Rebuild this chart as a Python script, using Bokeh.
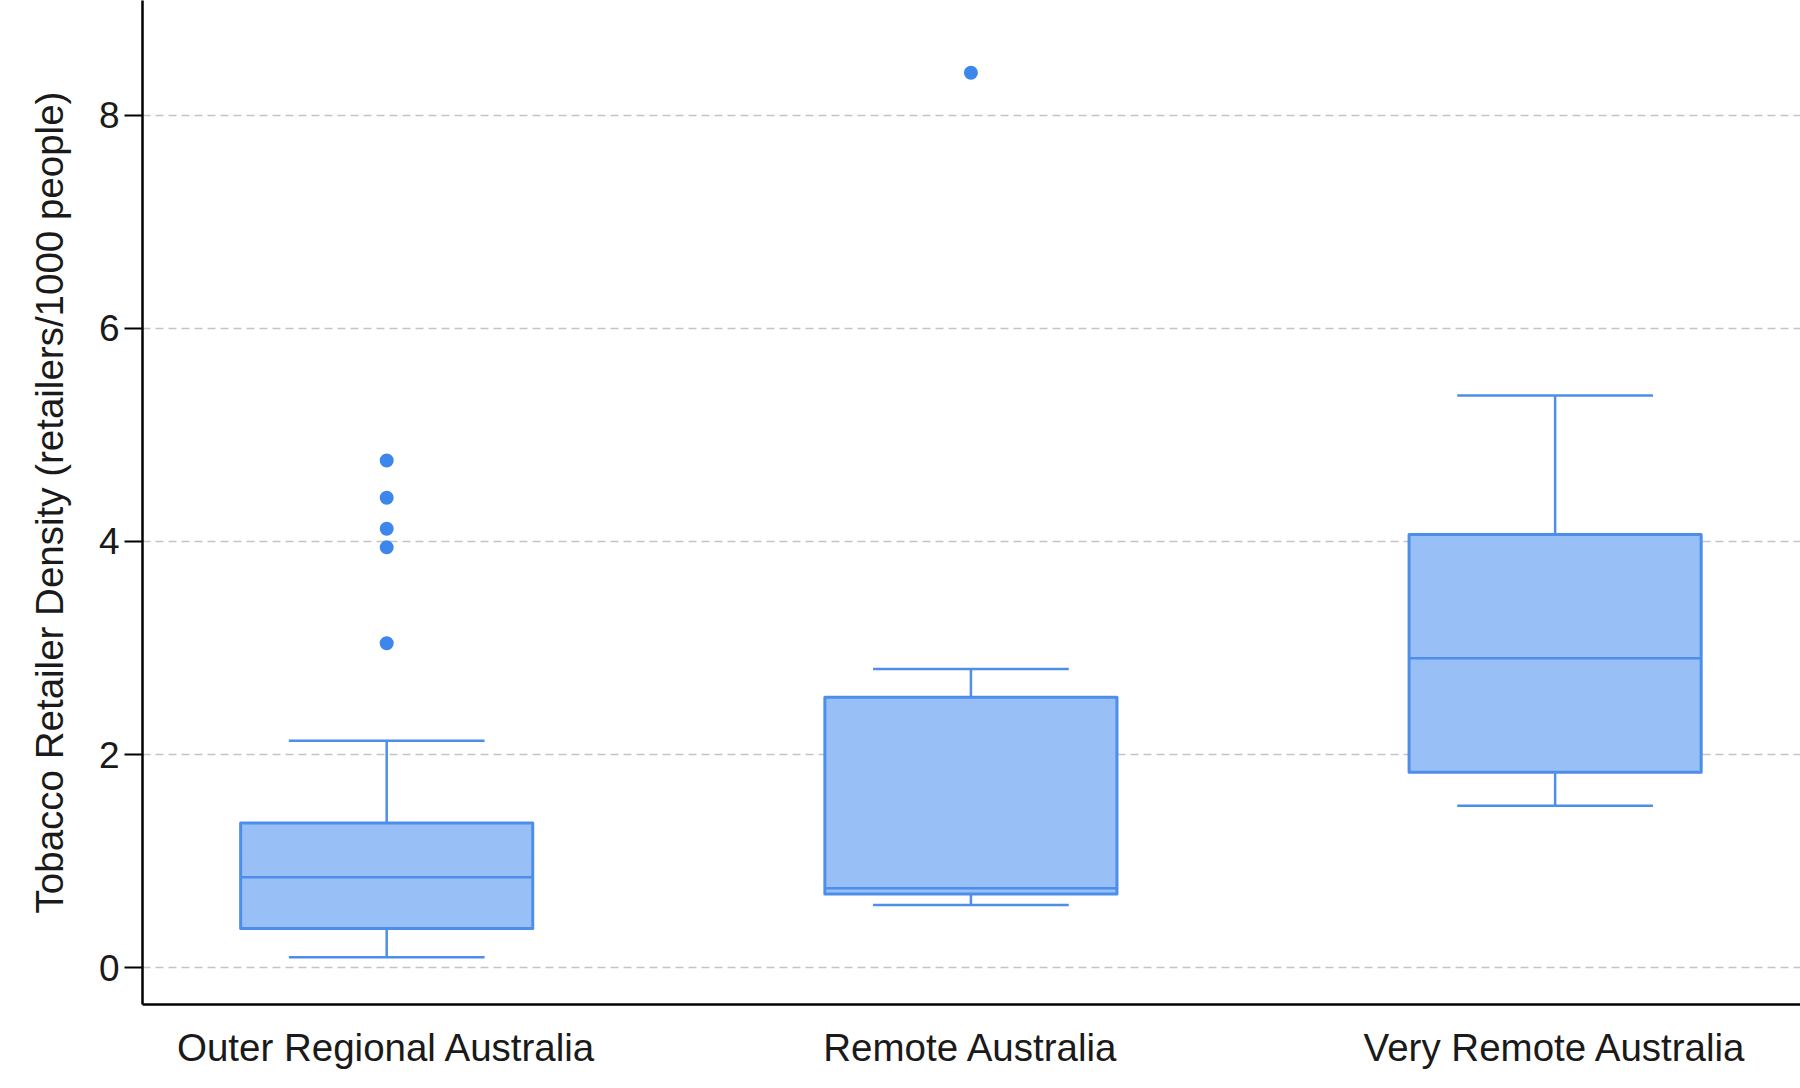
from bokeh.plotting import figure
from bokeh.models import Range1d, FixedTicker, ColumnDataSource
from bokeh.embed import file_html
from bokeh.resources import INLINE

categories = ["Outer Regional Australia", "Remote Australia", "Very Remote Australia"]
lower_whisker = [0.097, 0.588, 1.52]
q1 = [0.368, 0.692, 1.835]
median = [0.848, 0.745, 2.905]
q3 = [1.357, 2.538, 4.065]
upper_whisker = [2.13, 2.804, 5.37]
outlier_cat = [0, 0, 0, 0, 0, 1]
outlier_val = [4.76, 4.41, 4.12, 3.945, 3.045, 8.40]

FILL = "#98BFF6"
LINE = "#4D8EEB"
DOT = "#3D87EC"
BOX_W = 0.5
CAP_W = 0.335

xs = list(range(len(categories)))

p = figure(width=1800, height=1088, output_backend="svg", toolbar_location=None,
           x_range=Range1d(-0.418, 2.42), y_range=Range1d(-0.346, 9.078),
           min_border_left=142, min_border_right=0, min_border_top=0, min_border_bottom=84)
p.outline_line_color = None
p.background_fill_color = "white"
p.border_fill_color = "white"

src = ColumnDataSource(dict(x=xs, lo=lower_whisker, q1=q1, med=median, q3=q3, hi=upper_whisker,
                            bl=[x - BOX_W / 2 for x in xs], br=[x + BOX_W / 2 for x in xs],
                            cl=[x - CAP_W / 2 for x in xs], cr=[x + CAP_W / 2 for x in xs]))

# whisker stems
p.segment(x0="x", y0="q3", x1="x", y1="hi", source=src, line_color=LINE, line_width=2.5)
p.segment(x0="x", y0="lo", x1="x", y1="q1", source=src, line_color=LINE, line_width=2.5)
# caps
p.segment(x0="cl", y0="hi", x1="cr", y1="hi", source=src, line_color=LINE, line_width=2.5)
p.segment(x0="cl", y0="lo", x1="cr", y1="lo", source=src, line_color=LINE, line_width=2.5)
# boxes
p.quad(left="bl", right="br", bottom="q1", top="q3", source=src,
       fill_color=FILL, line_color=LINE, line_width=3, line_join="round")
# medians
p.segment(x0="bl", y0="med", x1="br", y1="med", source=src, line_color=LINE, line_width=2.5)
# outliers
p.scatter(x=outlier_cat, y=outlier_val, size=14, fill_color=DOT, line_color=None)

# grid
p.xgrid.grid_line_color = None
p.ygrid.ticker = FixedTicker(ticks=[0, 2, 4, 6, 8])
p.ygrid.grid_line_color = "#c4c4c4"
p.ygrid.grid_line_width = 1.5
p.ygrid.grid_line_dash = "8 5"

# y axis
ya = p.yaxis[0]
ya.ticker = FixedTicker(ticks=[0, 2, 4, 6, 8])
ya.axis_label = "Tobacco Retailer Density (retailers/1000 people)"
ya.axis_label_text_font = "Liberation Sans"
ya.axis_label_text_font_style = "normal"
ya.axis_label_text_font_size = "38.5px"
ya.axis_label_text_color = "#1a1a1a"
ya.axis_label_standoff = 25
ya.major_label_text_font = "Liberation Sans"
ya.major_label_text_font_size = "37px"
ya.major_label_text_color = "#1a1a1a"
ya.major_label_standoff = 5
ya.axis_line_color = "black"
ya.axis_line_width = 2.5
ya.major_tick_line_color = "black"
ya.major_tick_line_width = 2
ya.major_tick_out = 18
ya.major_tick_in = 0
ya.minor_tick_line_color = None

# x axis
xa = p.xaxis[0]
xa.ticker = FixedTicker(ticks=xs)
xa.major_label_overrides = {i: c for i, c in enumerate(categories)}
xa.major_label_text_font = "Liberation Sans"
xa.major_label_text_font_size = "38.5px"
xa.major_label_text_color = "#1a1a1a"
xa.major_label_standoff = 15
xa.axis_line_color = "black"
xa.axis_line_width = 2.5
xa.major_tick_line_color = None
xa.minor_tick_line_color = None

open("out.html", "w").write(file_html(p, INLINE))
